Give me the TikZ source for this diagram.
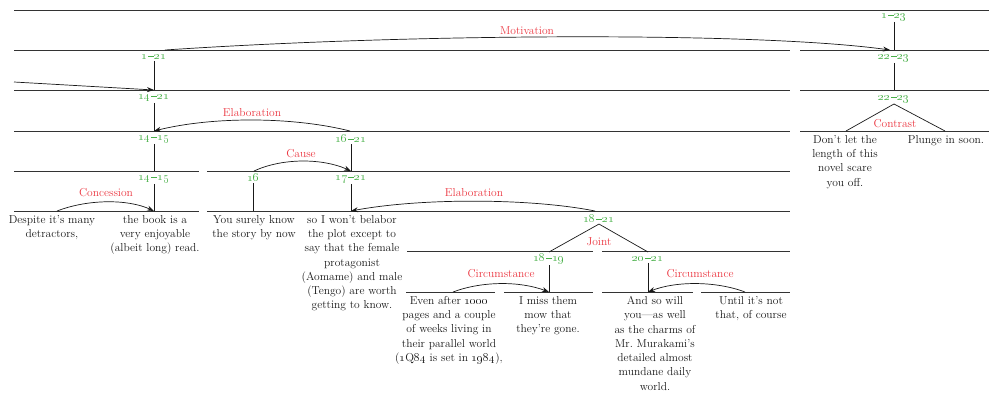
\documentclass[tikz,border=0pt]{standalone}
\usetikzlibrary{arrows.meta}
\definecolor{spangreen}{RGB}{72,176,72}
\definecolor{relred}{RGB}{236,56,66}
\newcommand\spandash{\kern0.08em\rule[0.24em]{0.5em}{0.075em}\kern0.08em}
\newcommand\spanrange[2]{\oldstylenums{#1}\spandash\oldstylenums{#2}}
\begin{document}
\begin{tikzpicture}[x=1pt,y=-1pt,
  rule/.style={line width=0.7pt, black!80},
  link/.style={line width=0.7pt, black!90},
  rel/.style={link, -{Stealth[length=7pt,width=5pt]}},
  spanlbl/.style={text=spangreen, font=\fontsize{11.5}{13}\selectfont, inner sep=1pt},
  rellbl/.style={text=relred, font=\fontsize{11.5}{13}\selectfont, inner sep=0pt},
  edu/.style={anchor=north, align=center, inner sep=0pt, text=black!90,
    font=\fontsize{11.5}{14.3}\selectfont},
]
\fill[white] (0,0) rectangle (994,394);
\useasboundingbox (0,0) rectangle (994,394);

% rules between the levels of the tree
\draw[rule] (14,10) -- (989,10);
\foreach \y in {50,90,131} {
  \draw[rule] (14,\y) -- (790,\y);
  \draw[rule] (800,\y) -- (989,\y);
}
\draw[rule] (14,171) -- (199,171);  \draw[rule] (207,171) -- (790,171);
\draw[rule] (14,211) -- (199,211);  \draw[rule] (207,211) -- (790,211);
\draw[rule] (407,251) -- (593,251); \draw[rule] (602,251) -- (790,251);
\draw[rule] (406,292) -- (495,292); \draw[rule] (504,292) -- (593,292);
\draw[rule] (602,292) -- (693,292); \draw[rule] (701,292) -- (790,292);

% span labels
\node[spanlbl] (n1-23)   at (894,17)  {\spanrange{1}{23}};
\node[spanlbl] (n22-23a) at (894,58)  {\spanrange{22}{23}};
\node[spanlbl] (n22-23b) at (894,99)  {\spanrange{22}{23}};
\node[spanlbl] (n1-21)   at (154,57)  {\spanrange{1}{21}};
\node[spanlbl] (n14-21)  at (154,98)  {\spanrange{14}{21}};
\node[spanlbl] (n14-15a) at (154,139) {\spanrange{14}{15}};
\node[spanlbl] (n16-21)  at (351,139) {\spanrange{16}{21}};
\node[spanlbl] (n14-15b) at (154,179) {\spanrange{14}{15}};
\node[spanlbl] (n16)     at (253,178) {\oldstylenums{16}};
\node[spanlbl] (n17-21)  at (351,179) {\spanrange{17}{21}};
\node[spanlbl] (n18-21)  at (599,219) {\spanrange{18}{21}};
\node[spanlbl] (n18-19)  at (549,259) {\spanrange{18}{19}};
\node[spanlbl] (n20-21)  at (648,259) {\spanrange{20}{21}};

% attachment points on the rules
\coordinate (r1-23)   at (894,50);
\coordinate (r22-23)  at (894,90);
\coordinate (r22l)    at (846,131);
\coordinate (r22r)    at (945,131);
\coordinate (r1-21)   at (154,90);
\coordinate (r14-21)  at (154,131);
\coordinate (r14-15a) at (154,171);
\coordinate (r16-21)  at (351,171);
\coordinate (r14-15b) at (154,211);
\coordinate (r16)     at (253,211);
\coordinate (r17-21)  at (351,211);
\coordinate (r18l)    at (549,252);
\coordinate (r18r)    at (648,252);
\coordinate (r18-19)  at (549,292);
\coordinate (r20-21)  at (648,292);

% vertical links and joins
\draw[link] (n1-23.south) -- (r1-23);
\draw[link] (n22-23a.south) -- (r22-23);
\draw[link] (r22l) -- (n22-23b.south) -- (r22r);
\draw[link] (n1-21.south) -- (r1-21);
\draw[link] (n14-21.south) -- (r14-21);
\draw[link] (n14-15a.south) -- (r14-15a);
\draw[link] (n16-21.south) -- (r16-21);
\draw[link] (n14-15b.south) -- (r14-15b);
\draw[link] (n16.south) -- (r16);
\draw[link] (n17-21.south) -- (r17-21);
\draw[link] (r18l) -- (n18-21.south) -- (r18r);
\draw[link] (n18-19.south) -- (r18-19);
\draw[link] (n20-21.south) -- (r20-21);

% relation arcs
\coordinate (motS) at (165,50);
\coordinate (motE) at (890,50);
\coordinate (inS)  at (14,82);
\coordinate (elaS) at (350,131);
\coordinate (cauS) at (254,171);
\coordinate (conS) at (57,211);
\coordinate (elbS) at (595,211);
\coordinate (ciaS) at (453,292);
\coordinate (cibS) at (745,292);

\draw[rel] (motS) .. controls (420,33) and (760,32) .. (motE);
\draw[rel] (inS) -- (r1-21);
\draw[rel] (elaS) .. controls (290,116) and (210,117) .. (r14-21);
\draw[rel] (cauS) .. controls (282,158) and (322,158) .. (r16-21);
\draw[rel] (conS) .. controls (88,199) and (128,199) .. (r14-15b);
\draw[rel] (elbS) .. controls (530,198) and (420,198) .. (r17-21);
\draw[rel] (ciaS) .. controls (482,281) and (520,281) .. (r18-19);
\draw[rel] (cibS) .. controls (716,281) and (676,281) .. (r20-21);

% relation names
\node[rellbl] (lmot)  at (527,31)  {Motivation};
\node[rellbl] (lela)  at (252,113) {Elaboration};
\node[rellbl] (lcau)  at (301,154) {Cause};
\node[rellbl] (lcon)  at (106,193) {Concession};
\node[rellbl] (lelb)  at (474,193) {Elaboration};
\node[rellbl] (ljoi)  at (599,242) {Joint};
\node[rellbl] (lcia)  at (501,274) {Circumstance};
\node[rellbl] (lcib)  at (700,274) {Circumstance};
\node[rellbl] (lctr)  at (895,124) {Contrast};

% elementary discourse units
\node[edu] (e14) at (52,215)  {Despite it's many\\detractors,};
\node[edu] (e15) at (155,215) {the book is a\\very enjoyable\\(albeit long) read.};
\node[edu] (e16) at (254,215) {You surely know\\the story by now};
\node[edu] (e17) at (352,215) {so I won't belabor\\the plot except to\\say that the female\\protagonist\\(Aomame) and male\\(Tengo) are worth\\getting to know.};
\node[edu] (e18) at (449,296) {Even after \oldstylenums{1000}\\pages and a couple\\of weeks living in\\their parallel world\\(\oldstylenums{1}Q\oldstylenums{84} is set in \oldstylenums{1984}),};
\node[edu] (e19) at (548,296) {I miss them\\mow that\\they're gone.};
\node[edu] (e20) at (655,296) {And so will\\you---as well\\as the charms of\\Mr.\ Murakami's\\detailed almost\\mundane daily\\world.};
\node[edu] (e21) at (751,296) {Until it's not\\that, of course};
\node[edu] (e22) at (845,135) {Don't let the\\length of this\\novel scare\\you off.};
\node[edu] (e23) at (946,135) {Plunge in soon.};
\end{tikzpicture}
\end{document}
